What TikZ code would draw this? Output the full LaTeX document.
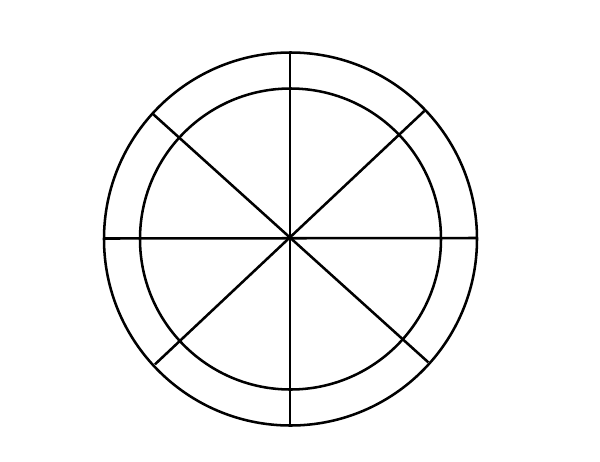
\documentclass[tikz,border=0pt]{standalone}
\begin{document}
\begin{tikzpicture}[x=0.75pt,y=-0.75pt,
  ring/.style={draw=black,line width=1.9pt},
  spoke/.style={draw=black,line width=1.9pt}]
\useasboundingbox (0,0) rectangle (600,461);
\fill[white] (0,0) rectangle (600,461);
\coordinate (c) at (290.5,239);
\draw[ring] (c) circle[radius=186.5*0.75pt];
\draw[ring] (c) circle[radius=150.5*0.75pt];
% spokes
\draw[spoke] (290,52.5) -- (290,426);
\draw[spoke] (104,238.5) -- (477,238);
\draw[spoke] (153.3,114.3) -- (428.3,362.3);
\draw[spoke] (424.3,111) -- (155,364.3);
\end{tikzpicture}
\end{document}
